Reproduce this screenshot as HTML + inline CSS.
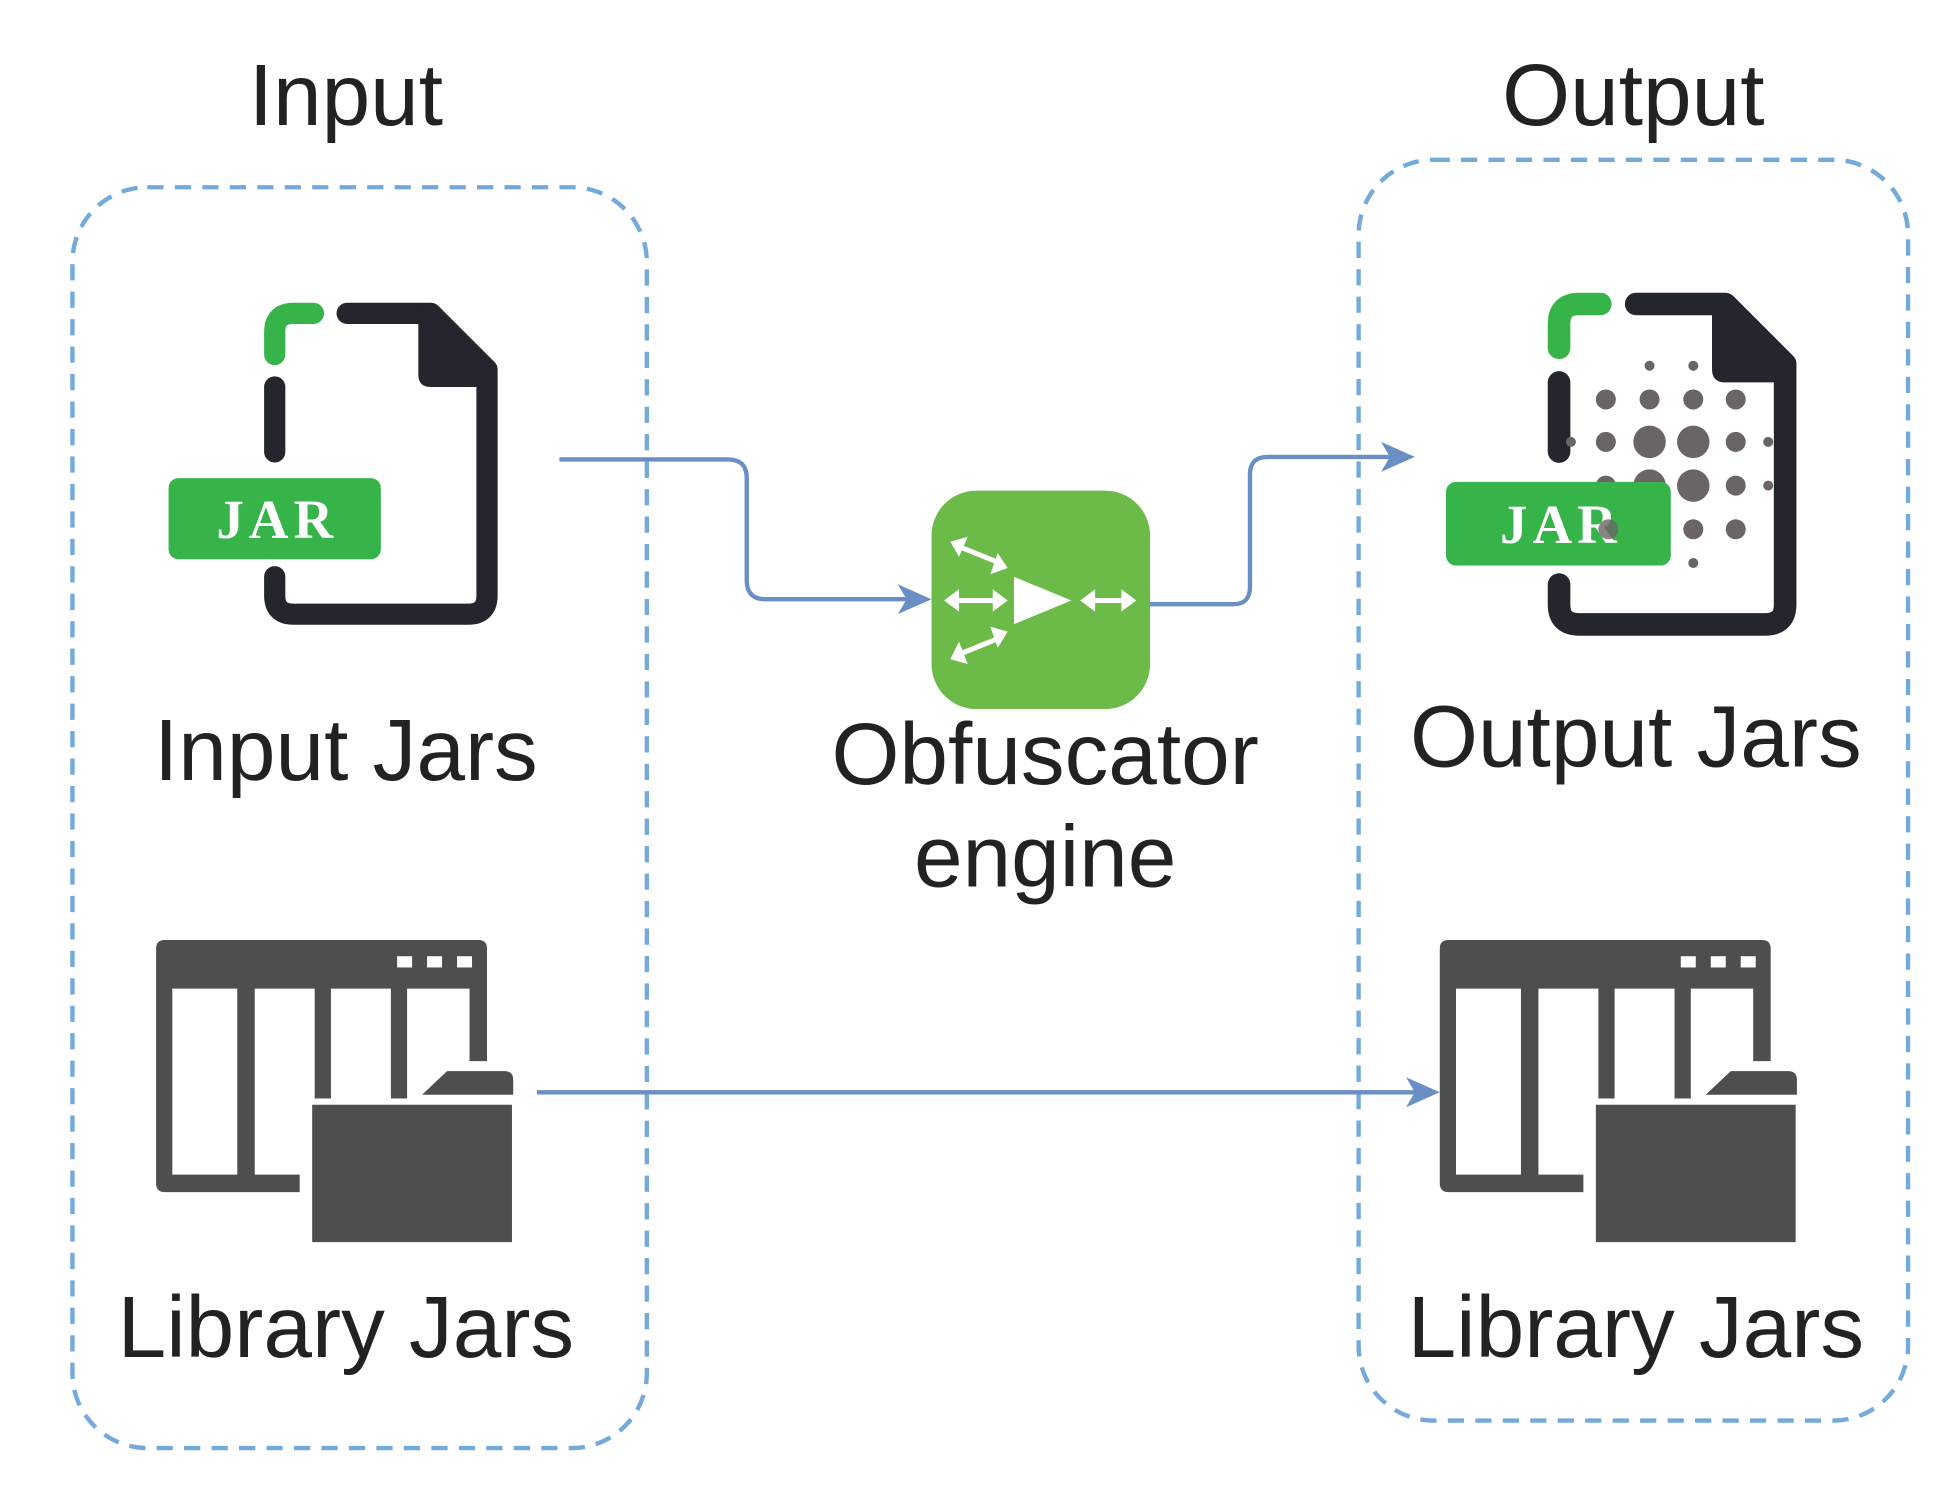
<!DOCTYPE html>
<html><head><meta charset="utf-8"><style>html,body{margin:0;padding:0;background:#fff}svg{display:block}</style></head>
<body>
<svg width="1958" height="1498" viewBox="0 0 1568 1200" preserveAspectRatio="none" xmlns="http://www.w3.org/2000/svg" font-family="Liberation Sans, sans-serif">
<!-- titles -->
<text x="277" y="100" font-size="70" text-anchor="middle" fill="#222">Input</text>
<text x="1308" y="100" font-size="70" text-anchor="middle" fill="#222">Output</text>
<!-- dashed groups -->
<rect x="58" y="150" width="460" height="1010" rx="60" fill="none" stroke="#74a9dc" stroke-width="3.5" stroke-dasharray="13 9"/>
<rect x="1088" y="128" width="440" height="1010" rx="60" fill="none" stroke="#74a9dc" stroke-width="3.5" stroke-dasharray="13 9"/>

<!-- input jar -->
<g id="file">
<path d="M278 251 L345 251 L390 296 L390 477 Q390 492 375 492 L235 492 Q220 492 220 477 L220 462" fill="none" stroke="#23262c" stroke-width="17" stroke-linecap="round" stroke-linejoin="round"/>
<path d="M335 245 L350 245 L398 293 L398 310 L345 310 Q335 310 335 300 Z" fill="#23262c"/>
<path d="M220 284 L220 266 Q220 251 235 251 L251 251" fill="none" stroke="#36b44a" stroke-width="17" stroke-linecap="round"/>
<path d="M220 310 L220 362" fill="none" stroke="#23262c" stroke-width="17" stroke-linecap="round"/>
</g>
<rect x="135" y="383" width="170" height="65" rx="8" fill="#36b44a"/>
<text x="222" y="431" font-size="44" font-weight="bold" letter-spacing="4" font-family="Liberation Serif, serif" text-anchor="middle" fill="#fff">JAR</text>
<text x="277" y="625" font-size="70" text-anchor="middle" fill="#222">Input Jars</text>

<!-- output jar -->
<use href="#file" transform="translate(1240,235) scale(1.065) translate(-212,-243)"/>
<g fill="#6a6564">
<circle cx="1321" cy="293" r="4"/><circle cx="1356" cy="293" r="4"/>
<circle cx="1286" cy="320" r="8"/><circle cx="1321" cy="320" r="8"/><circle cx="1356" cy="320" r="8"/><circle cx="1390" cy="320" r="8"/>
<circle cx="1258" cy="354" r="4"/><circle cx="1286" cy="354" r="8"/><circle cx="1321" cy="354" r="13"/><circle cx="1356" cy="354" r="13"/><circle cx="1390" cy="354" r="8"/><circle cx="1416" cy="354" r="4"/>
<circle cx="1286" cy="389" r="8"/><circle cx="1321" cy="389" r="13"/><circle cx="1356" cy="389" r="13"/><circle cx="1390" cy="389" r="8"/><circle cx="1416" cy="389" r="4"/>
<circle cx="1356" cy="424" r="8"/><circle cx="1390" cy="424" r="8"/>
<circle cx="1356" cy="451" r="4"/>
</g>
<rect x="1158" y="386" width="180" height="67" rx="8" fill="#36b44a"/>
<text x="1250" y="435" font-size="44" font-weight="bold" letter-spacing="4" font-family="Liberation Serif, serif" text-anchor="middle" fill="#fff">JAR</text>
<circle cx="1288" cy="424" r="8" fill="#6a6564" opacity="0.8"/>
<text x="1310" y="614" font-size="70" text-anchor="middle" fill="#222">Output Jars</text>

<!-- engine -->
<rect x="746" y="393" width="175" height="175" rx="36" fill="#6cba47"/>
<polygon points="812,462 858,481 812,500" fill="#fff"/>
<g stroke="#fff" stroke-width="4" fill="none">
<line x1="762" y1="481" x2="802" y2="481"/>
<line x1="870" y1="481" x2="905" y2="481"/>
<line x1="766" y1="437" x2="803" y2="452"/>
<line x1="766" y1="525" x2="803" y2="510"/>
</g>
<g fill="#fff">
<polygon points="756,481 768,472 768,490"/><polygon points="807,481 795,472 795,490"/>
<polygon points="865,481 877,472 877,490"/><polygon points="910,481 898,472 898,490"/>
<polygon points="761,434 775,430 768,446"/><polygon points="807,455 793,460 799,443"/>
<polygon points="761,528 768,514 775,532"/><polygon points="807,506 799,519 793,502"/>
</g>
<text x="837" y="628" font-size="70" text-anchor="middle" fill="#222">Obfuscator</text>
<text x="837" y="710" font-size="70" text-anchor="middle" fill="#222">engine</text>

<!-- connectors -->
<g fill="none" stroke="#6a8fc5" stroke-width="3.5">
<path d="M448 368 L583 368 Q598 368 598 383 L598 465 Q598 480 613 480 L728 480"/>
<path d="M921 484 L988 484 Q1001 484 1001 470 L1001 380 Q1001 366 1015 366 L1116 366"/>
<path d="M430 875 L1135 875"/>
</g>
<g fill="#6a8fc5">
<polygon points="746,480 719,468 726,480 719,492"/>
<polygon points="1133,366 1106,354 1113,366 1106,378"/>
<polygon points="1153,875 1126,863 1133,875 1126,887"/>
</g>

<!-- library icons -->
<g id="lib">
<path d="M125 760 Q125 753 132 753 L383 753 Q390 753 390 760 L390 850 L376 850 L376 792 L326 792 L326 880 L313 880 L313 792 L265 792 L265 880 L252 880 L252 792 L204 792 L204 941 L240 941 L240 955 L132 955 Q125 955 125 948 Z M138 792 L138 941 L190 941 L190 792 Z" fill="#4d4f4e" fill-rule="evenodd"/>
<rect x="318" y="766" width="12" height="9" fill="#fff"/><rect x="342" y="766" width="12" height="9" fill="#fff"/><rect x="366" y="766" width="12" height="9" fill="#fff"/>
<path d="M250 885 L410 885 L410 995 L250 995 Z" fill="#4d4f4e"/>
<path d="M338 877 L358 858 L404 858 Q411 858 411 865 L411 877 Z" fill="#4d4f4e"/>
</g>
<use href="#lib" transform="translate(1028,0)"/>
<text x="277" y="1087" font-size="70" text-anchor="middle" fill="#222">Library Jars</text>
<text x="1310" y="1087" font-size="70" text-anchor="middle" fill="#222">Library Jars</text>
</svg>
</body></html>
